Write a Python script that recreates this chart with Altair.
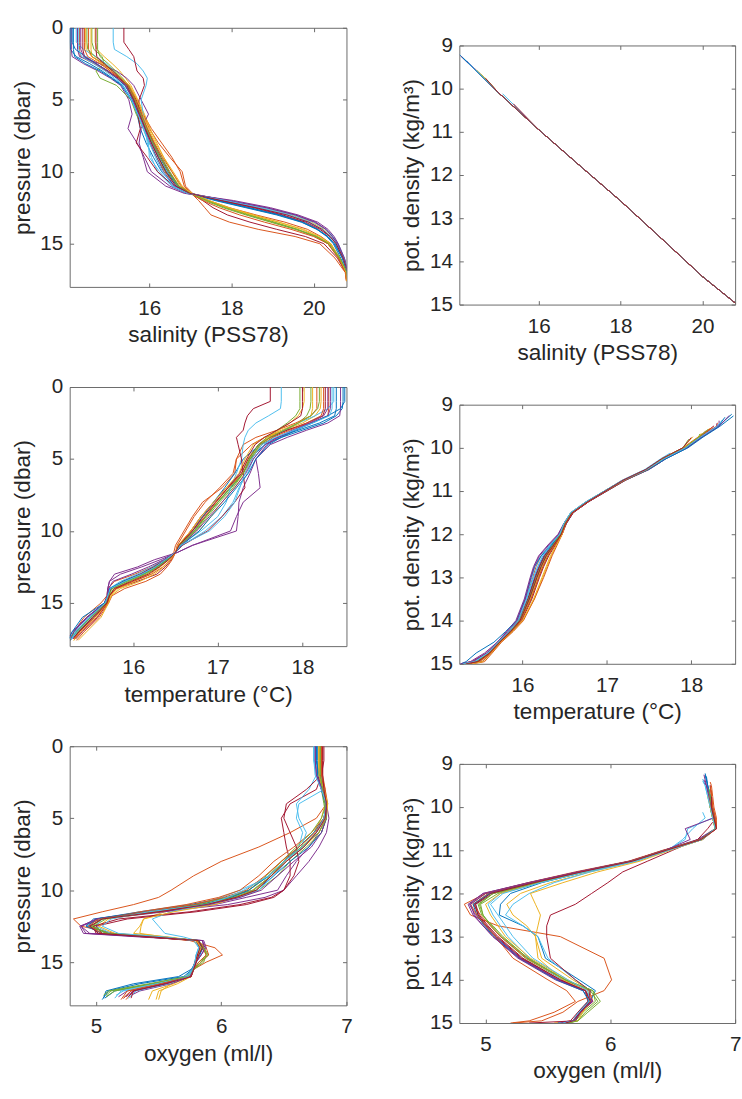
import altair as alt
import pandas as pd

# ---------------- data ----------------
COLORS = ["#0072BD", "#D95319", "#EDB120", "#7E2F8E", "#77AC30", "#4DBEEE", "#A2142F"]

PRESSURE = [0, 1, 1.5, 2, 2.5, 3, 3.5, 4, 5, 6, 7, 8, 9, 10, 11, 11.5, 12, 12.5, 13, 13.5, 14, 14.5, 15, 16, 17]

SALINITY = [
    [14.07, 14.07, 14.08, 14.22, 14.55, 14.85, 15.10, 15.35, 15.58, 15.70, 15.78, 15.92, 16.10, 16.30, 16.62, 16.95, 17.60, 18.35, 19.10, 19.70, 20.08, 20.35, 20.52, 20.70, 20.82],
    [14.30, 14.30, 14.30, 14.32, 14.65, 14.95, 15.22, 15.42, 15.65, 15.85, 16.00, 16.22, 16.50, 16.80, 16.88, 17.05, 17.45, 17.95, 18.60, 19.30, 19.85, 20.18, 20.42, 20.62, 20.78],
    [14.45, 14.45, 14.46, 14.60, 14.85, 15.05, 15.25, 15.45, 15.62, 15.78, 15.90, 16.05, 16.22, 16.40, 16.70, 17.00, 17.85, 18.75, 19.45, 19.95, 20.25, 20.42, 20.55, 20.72, 20.85],
    [14.10, 14.10, 14.10, 14.12, 14.40, 14.75, 15.05, 15.30, 15.50, 15.58, 15.48, 15.70, 15.88, 16.05, 16.50, 16.90, 17.95, 18.85, 19.55, 20.05, 20.30, 20.45, 20.58, 20.74, 20.84],
    [14.60, 14.60, 14.65, 14.85, 14.90, 14.70, 14.80, 15.20, 15.55, 15.68, 15.85, 16.00, 16.18, 16.38, 16.65, 16.98, 17.40, 17.90, 18.45, 19.05, 19.60, 20.05, 20.35, 20.62, 20.80],
    [14.22, 14.22, 14.40, 14.70, 14.95, 15.15, 15.30, 15.45, 15.60, 15.72, 15.85, 15.98, 16.00, 16.25, 16.55, 16.92, 17.90, 18.80, 19.50, 20.00, 20.30, 20.48, 20.60, 20.75, 20.85],
    [14.38, 14.38, 14.38, 14.42, 14.70, 15.00, 15.25, 15.48, 15.68, 15.82, 15.95, 16.10, 16.28, 16.48, 16.72, 17.00, 17.30, 17.55, 17.90, 18.45, 19.10, 19.80, 20.25, 20.58, 20.78],
    [14.15, 14.15, 14.15, 14.18, 14.45, 14.80, 15.08, 15.32, 15.55, 15.75, 15.92, 16.08, 16.25, 16.45, 16.70, 17.02, 17.70, 18.45, 19.20, 19.75, 20.10, 20.35, 20.50, 20.70, 20.82],
    [14.52, 14.52, 14.52, 14.60, 14.90, 15.12, 15.32, 15.50, 15.70, 15.85, 16.05, 16.30, 16.55, 16.75, 16.85, 17.02, 17.20, 17.35, 17.50, 17.95, 18.65, 19.55, 20.15, 20.52, 20.77],
    [14.68, 14.68, 14.72, 14.90, 15.10, 15.28, 15.42, 15.55, 15.72, 15.88, 16.02, 16.18, 16.35, 16.55, 16.75, 17.05, 17.45, 17.95, 18.55, 19.15, 19.70, 20.10, 20.40, 20.65, 20.80],
    [14.25, 14.25, 14.25, 14.30, 14.80, 15.20, 15.45, 15.62, 15.80, 15.98, 15.80, 15.75, 15.85, 15.95, 16.40, 16.85, 18.05, 18.95, 19.62, 20.10, 20.35, 20.50, 20.60, 20.75, 20.85],
    [14.74, 14.74, 14.74, 14.80, 15.00, 15.18, 15.35, 15.50, 15.65, 15.80, 15.95, 16.12, 16.30, 16.50, 16.72, 17.00, 17.35, 17.80, 18.35, 18.95, 19.55, 20.05, 20.35, 20.62, 20.80],
    [15.12, 15.12, 15.15, 15.45, 15.70, 15.85, 15.95, 15.92, 15.80, 15.85, 15.90, 15.95, 16.05, 16.20, 16.55, 16.92, 17.80, 18.65, 19.35, 19.85, 20.20, 20.42, 20.56, 20.73, 20.84],
    [15.38, 15.38, 15.50, 15.62, 15.66, 15.70, 15.85, 15.88, 15.75, 15.72, 15.78, 15.68, 15.95, 16.20, 16.60, 16.95, 17.75, 18.55, 19.25, 19.80, 20.15, 20.40, 20.55, 20.72, 20.83],
    [14.12, 14.12, 14.20, 14.45, 14.72, 14.98, 15.20, 15.40, 15.62, 15.78, 15.90, 16.05, 16.22, 16.42, 16.68, 17.00, 17.65, 18.40, 19.15, 19.72, 20.08, 20.32, 20.48, 20.66, 20.80],
    [14.42, 14.42, 14.42, 14.50, 14.80, 15.05, 15.28, 15.48, 15.66, 15.80, 15.95, 16.12, 16.32, 16.55, 16.78, 17.00, 17.30, 17.70, 18.20, 18.80, 19.45, 20.00, 20.35, 20.60, 20.78],
    [14.58, 14.58, 14.58, 14.60, 14.85, 15.10, 15.32, 15.52, 15.70, 15.84, 15.98, 16.15, 16.35, 16.58, 16.80, 17.02, 17.40, 17.90, 18.50, 19.15, 19.75, 20.15, 20.42, 20.64, 20.79],
    [14.33, 14.33, 14.33, 14.40, 14.70, 14.98, 15.22, 15.42, 15.60, 15.74, 15.88, 16.02, 16.18, 16.35, 16.62, 16.98, 17.90, 18.85, 19.55, 20.02, 20.30, 20.46, 20.58, 20.73, 20.84],
    [14.48, 14.48, 14.50, 14.68, 14.92, 15.12, 15.30, 15.46, 15.64, 15.78, 15.92, 16.08, 16.26, 16.46, 16.70, 17.00, 17.40, 17.85, 18.40, 19.00, 19.60, 20.08, 20.38, 20.64, 20.82],
    [14.28, 14.28, 14.28, 14.35, 14.65, 14.92, 15.15, 15.36, 15.56, 15.72, 15.86, 16.00, 16.15, 16.32, 16.58, 16.95, 17.85, 18.70, 19.40, 19.90, 20.22, 20.42, 20.56, 20.72, 20.84],
    [14.70, 14.70, 14.70, 14.72, 14.90, 15.10, 15.28, 15.45, 15.62, 15.76, 15.90, 16.05, 16.22, 16.40, 16.65, 16.98, 17.75, 18.60, 19.35, 19.88, 20.20, 20.40, 20.55, 20.72, 20.84],
]

TEMPERATURE = [
    [18.48, 18.48, 18.47, 18.40, 18.25, 18.00, 17.75, 17.55, 17.38, 17.30, 17.15, 17.00, 16.85, 16.72, 16.55, 16.50, 16.40, 16.28, 16.12, 15.90, 15.73, 15.70, 15.66, 15.48, 15.32],
    [18.31, 18.31, 18.31, 18.30, 18.10, 17.80, 17.55, 17.40, 17.22, 17.20, 17.05, 16.82, 16.70, 16.60, 16.50, 16.48, 16.38, 16.22, 16.02, 15.78, 15.70, 15.69, 15.62, 15.42, 15.30],
    [18.22, 18.22, 18.21, 18.15, 18.00, 17.78, 17.60, 17.48, 17.35, 17.28, 17.12, 16.98, 16.82, 16.68, 16.53, 16.50, 16.42, 16.30, 16.16, 15.96, 15.78, 15.72, 15.70, 15.55, 15.38],
    [18.45, 18.45, 18.45, 18.44, 18.30, 18.05, 17.82, 17.62, 17.45, 17.48, 17.50, 17.30, 17.22, 17.15, 16.70, 16.52, 16.32, 16.10, 15.85, 15.72, 15.70, 15.70, 15.68, 15.50, 15.33],
    [18.10, 18.10, 18.09, 18.05, 17.95, 17.80, 17.62, 17.50, 17.38, 17.30, 17.18, 17.02, 16.88, 16.74, 16.56, 16.50, 16.40, 16.26, 16.10, 15.90, 15.74, 15.71, 15.67, 15.50, 15.34],
    [18.37, 18.37, 18.30, 18.15, 17.95, 17.78, 17.65, 17.55, 17.42, 17.35, 17.25, 17.18, 17.05, 16.85, 16.58, 16.50, 16.38, 16.25, 16.08, 15.88, 15.73, 15.70, 15.68, 15.52, 15.36],
    [18.27, 18.27, 18.27, 18.24, 18.05, 17.82, 17.62, 17.48, 17.36, 17.28, 17.10, 16.95, 16.80, 16.68, 16.54, 16.50, 16.45, 16.38, 16.28, 16.05, 15.80, 15.72, 15.70, 15.58, 15.40],
    [18.40, 18.40, 18.40, 18.38, 18.20, 17.95, 17.70, 17.50, 17.30, 17.20, 17.08, 16.95, 16.82, 16.70, 16.55, 16.50, 16.40, 16.28, 16.12, 15.92, 15.74, 15.70, 15.67, 15.45, 15.30],
    [18.17, 18.17, 18.17, 18.10, 17.92, 17.70, 17.45, 17.30, 17.22, 17.18, 17.02, 16.85, 16.72, 16.62, 16.52, 16.50, 16.46, 16.40, 16.32, 16.15, 15.90, 15.75, 15.71, 15.60, 15.42],
    [18.02, 18.02, 18.00, 17.95, 17.85, 17.72, 17.60, 17.50, 17.40, 17.32, 17.20, 17.05, 16.92, 16.78, 16.56, 16.50, 16.42, 16.32, 16.20, 16.02, 15.82, 15.73, 15.70, 15.55, 15.36],
    [18.33, 18.33, 18.33, 18.30, 18.10, 17.90, 17.72, 17.58, 17.45, 17.38, 17.30, 17.25, 17.24, 17.22, 16.70, 16.52, 16.25, 16.05, 15.78, 15.72, 15.70, 15.69, 15.66, 15.45, 15.28],
    [17.97, 17.97, 17.97, 17.92, 17.82, 17.70, 17.58, 17.48, 17.37, 17.30, 17.16, 17.00, 16.86, 16.72, 16.55, 16.50, 16.41, 16.30, 16.15, 15.95, 15.77, 15.72, 15.69, 15.53, 15.35],
    [17.75, 17.75, 17.74, 17.60, 17.45, 17.36, 17.32, 17.30, 17.28, 17.22, 17.15, 17.10, 17.00, 16.80, 16.55, 16.50, 16.36, 16.22, 16.05, 15.85, 15.72, 15.70, 15.68, 15.50, 15.34],
    [17.62, 17.62, 17.42, 17.35, 17.32, 17.30, 17.22, 17.24, 17.28, 17.30, 17.32, 17.20, 17.05, 16.88, 16.58, 16.50, 16.38, 16.24, 16.08, 15.88, 15.74, 15.71, 15.68, 15.52, 15.36],
    [18.50, 18.50, 18.45, 18.30, 18.12, 17.92, 17.75, 17.60, 17.45, 17.36, 17.22, 17.08, 16.92, 16.78, 16.57, 16.50, 16.40, 16.27, 16.10, 15.88, 15.72, 15.70, 15.66, 15.40, 15.28],
    [18.25, 18.25, 18.25, 18.22, 18.05, 17.85, 17.65, 17.52, 17.40, 17.30, 17.12, 16.98, 16.85, 16.70, 16.54, 16.50, 16.44, 16.35, 16.22, 16.00, 15.80, 15.72, 15.70, 15.57, 15.38],
    [18.12, 18.12, 18.12, 18.10, 17.95, 17.75, 17.55, 17.42, 17.32, 17.25, 17.10, 16.95, 16.80, 16.68, 16.53, 16.50, 16.44, 16.36, 16.25, 16.08, 15.85, 15.74, 15.71, 15.62, 15.45],
    [18.30, 18.30, 18.30, 18.25, 18.08, 17.88, 17.70, 17.56, 17.42, 17.33, 17.20, 17.05, 16.90, 16.75, 16.56, 16.50, 16.36, 16.18, 15.98, 15.76, 15.71, 15.70, 15.67, 15.46, 15.30],
    [18.20, 18.20, 18.18, 18.10, 17.95, 17.78, 17.62, 17.50, 17.38, 17.30, 17.14, 17.00, 16.86, 16.73, 16.55, 16.50, 16.40, 16.28, 16.12, 15.92, 15.75, 15.71, 15.68, 15.50, 15.33],
    [18.35, 18.35, 18.35, 18.32, 18.12, 17.90, 17.68, 17.52, 17.40, 17.32, 17.26, 17.20, 17.08, 16.90, 16.56, 16.50, 16.38, 16.26, 16.10, 15.90, 15.73, 15.70, 15.67, 15.48, 15.32],
    [18.00, 18.00, 18.00, 17.98, 17.85, 17.70, 17.55, 17.44, 17.34, 17.26, 17.12, 16.97, 16.83, 16.70, 16.54, 16.50, 16.42, 16.31, 16.18, 15.98, 15.78, 15.72, 15.69, 15.54, 15.36],
]

OXY_PRESSURE = [0, 1, 2, 3, 4, 5, 6, 7, 8, 9, 10, 10.5, 11, 11.5, 12, 12.5, 13, 13.25, 13.5, 14, 14.5, 15, 15.5, 16, 16.5, 17]

OXYGEN = [
    [6.76, 6.76, 6.77, 6.82, 6.84, 6.82, 6.76, 6.66, 6.52, 6.40, 6.25, 6.05, 5.75, 5.35, 5.00, 4.93, 5.05, 5.45, 5.80, 5.84, 5.82, 5.80, 5.77, 5.72, 5.45, 5.15],
    [6.80, 6.80, 6.80, 6.83, 6.84, 6.76, 6.55, 6.30, 6.00, 5.78, 5.60, 5.50, 5.30, 5.05, 4.82, 4.88, 5.15, 5.45, 5.75, 5.95, 6.01, 5.88, 5.78, 5.76, 5.55, 5.30],
    [6.78, 6.78, 6.78, 6.80, 6.83, 6.80, 6.74, 6.62, 6.48, 6.38, 6.22, 6.08, 5.85, 5.55, 5.38, 5.36, 5.35, 5.55, 5.78, 5.83, 5.80, 5.79, 5.77, 5.75, 5.60, 5.52],
    [6.75, 6.75, 6.76, 6.80, 6.84, 6.83, 6.78, 6.70, 6.60, 6.52, 6.45, 6.20, 5.95, 5.55, 5.05, 4.88, 4.92, 5.40, 5.85, 5.86, 5.82, 5.80, 5.78, 5.76, 5.50, 5.25],
    [6.79, 6.79, 6.79, 6.80, 6.82, 6.84, 6.80, 6.68, 6.55, 6.45, 6.30, 6.12, 5.88, 5.50, 5.08, 4.98, 5.08, 5.50, 5.80, 5.86, 5.90, 5.82, 5.78, 5.74, 5.45, 5.12],
    [6.74, 6.74, 6.80, 6.82, 6.62, 6.60, 6.65, 6.62, 6.50, 6.40, 6.15, 6.00, 5.80, 5.40, 5.05, 5.00, 5.12, 5.50, 5.80, 5.82, 5.80, 5.79, 5.77, 5.74, 5.55, 5.22],
    [6.80, 6.80, 6.80, 6.76, 6.55, 6.48, 6.50, 6.52, 6.55, 6.55, 6.50, 6.42, 6.20, 5.80, 5.25, 5.00, 5.05, 5.45, 5.82, 5.84, 5.81, 5.79, 5.77, 5.76, 5.55, 5.28],
    [6.77, 6.77, 6.77, 6.80, 6.83, 6.84, 6.80, 6.70, 6.55, 6.42, 6.28, 6.10, 5.82, 5.42, 5.00, 4.95, 5.10, 5.50, 5.82, 5.85, 5.83, 5.80, 5.77, 5.70, 5.35, 5.10],
    [6.81, 6.81, 6.81, 6.83, 6.85, 6.82, 6.72, 6.58, 6.42, 6.30, 6.15, 5.98, 5.72, 5.35, 5.05, 4.96, 5.02, 5.40, 5.80, 5.88, 5.90, 5.84, 5.78, 5.75, 5.50, 5.25],
    [6.78, 6.78, 6.78, 6.81, 6.84, 6.83, 6.76, 6.64, 6.50, 6.40, 6.28, 6.12, 5.90, 5.45, 5.10, 5.02, 5.15, 5.55, 5.80, 5.84, 5.82, 5.80, 5.77, 5.75, 5.62, 5.45],
    [6.75, 6.75, 6.76, 6.80, 6.84, 6.86, 6.84, 6.78, 6.70, 6.60, 6.50, 6.35, 6.05, 5.50, 5.02, 4.87, 4.90, 5.35, 5.86, 5.88, 5.84, 5.80, 5.78, 5.76, 5.60, 5.35],
    [6.79, 6.79, 6.79, 6.82, 6.84, 6.80, 6.72, 6.60, 6.48, 6.36, 6.22, 6.05, 5.80, 5.45, 5.05, 4.97, 5.10, 5.52, 5.82, 5.85, 5.88, 5.86, 5.78, 5.74, 5.48, 5.15],
    [6.74, 6.74, 6.76, 6.70, 6.60, 6.62, 6.68, 6.64, 6.52, 6.42, 6.30, 6.15, 5.90, 5.60, 5.45, 5.50, 5.55, 5.70, 5.80, 5.82, 5.80, 5.79, 5.77, 5.72, 5.48, 5.20],
    [6.82, 6.82, 6.80, 6.68, 6.52, 6.50, 6.55, 6.60, 6.62, 6.58, 6.50, 6.40, 6.15, 5.75, 5.18, 4.98, 5.00, 5.40, 5.80, 5.83, 5.81, 5.79, 5.77, 5.76, 5.55, 5.30],
    [6.76, 6.76, 6.78, 6.82, 6.84, 6.82, 6.74, 6.62, 6.50, 6.38, 6.22, 6.08, 5.85, 5.40, 4.98, 4.92, 5.05, 5.48, 5.82, 5.84, 5.82, 5.80, 5.76, 5.66, 5.30, 5.08],
    [6.80, 6.80, 6.80, 6.82, 6.84, 6.82, 6.75, 6.62, 6.48, 6.35, 6.20, 6.02, 5.78, 5.40, 5.02, 4.94, 5.05, 5.45, 5.80, 5.86, 5.88, 5.82, 5.78, 5.75, 5.52, 5.28],
    [6.78, 6.78, 6.78, 6.82, 6.85, 6.84, 6.78, 6.66, 6.52, 6.40, 6.25, 6.12, 5.95, 5.62, 5.38, 5.35, 5.30, 5.58, 5.80, 5.84, 5.82, 5.80, 5.78, 5.76, 5.65, 5.50],
    [6.75, 6.75, 6.76, 6.81, 6.84, 6.84, 6.80, 6.72, 6.58, 6.45, 6.32, 6.15, 5.90, 5.45, 5.00, 4.88, 4.95, 5.45, 5.85, 5.87, 5.84, 5.80, 5.78, 5.75, 5.55, 5.30],
    [6.79, 6.79, 6.79, 6.81, 6.83, 6.84, 6.78, 6.64, 6.50, 6.40, 6.26, 6.10, 5.85, 5.45, 5.04, 4.96, 5.08, 5.50, 5.82, 5.86, 5.89, 5.84, 5.78, 5.73, 5.42, 5.10],
    [6.74, 6.74, 6.75, 6.80, 6.84, 6.82, 6.76, 6.65, 6.50, 6.38, 6.18, 6.05, 5.88, 5.42, 5.12, 5.05, 5.18, 5.55, 5.78, 5.82, 5.80, 5.79, 5.77, 5.74, 5.58, 5.32],
    [6.81, 6.81, 6.81, 6.82, 6.84, 6.83, 6.76, 6.66, 6.52, 6.40, 6.28, 6.12, 5.88, 5.50, 5.05, 4.95, 5.02, 5.45, 5.82, 5.85, 5.82, 5.80, 5.78, 5.76, 5.56, 5.30],
]

# deepest sample of each cast
BOTTOM_P = [17.5, 17.6, 17.6, 17.4, 17.3, 17.3, 17.5, 17.6, 17.6, 17.6, 17.3, 17.4, 17.5, 17.4, 17.5, 17.5, 17.6, 17.4, 17.3, 17.5, 17.5]
BOTTOM_S = [20.84, 20.80, 20.86, 20.85, 20.83, 20.86, 20.80, 20.84, 20.80, 20.81, 20.85, 20.82, 20.85, 20.84, 20.82, 20.80, 20.80, 20.85, 20.83, 20.85, 20.85]
BOTTOM_T = [15.27, 15.26, 15.30, 15.28, 15.28, 15.30, 15.32, 15.26, 15.33, 15.30, 15.25, 15.29, 15.28, 15.30, 15.24, 15.30, 15.35, 15.26, 15.27, 15.27, 15.29]
BOTTOM_O = [5.07, 5.24, 5.50, 5.18, 5.08, 5.16, 5.22, 5.05, 5.20, 5.42, 5.28, 5.08, 5.15, 5.26, 5.06, 5.22, 5.48, 5.24, 5.06, 5.26, 5.28]

# potential density (kg/m^3 - 1000) space
SURFACE_SIGMA = [9.22, 9.42, 9.55, 9.25, 9.68, 9.35, 9.49, 9.29, 9.61, 9.74, 9.37, 9.80, 10.12, 10.35, 9.26, 9.52, 9.66, 9.44, 9.57, 9.40, 9.76]
SIGMA_LEVELS = [9.5, 9.75, 10, 10.25, 10.5, 10.75, 11, 11.25, 11.5, 11.75, 12, 12.25, 12.5, 12.75, 13, 13.5, 14, 14.25, 14.5, 14.75, 14.95, 15.0]

SAL_LINE_S = [15.0, 16.0, 17.0, 18.0, 19.0, 20.0, 20.85]
SAL_LINE_SIGMA = [10.08, 10.95, 11.78, 12.60, 13.47, 14.35, 15.0]

TEMP_ON_SIGMA = [
    [18.32, 18.12, 17.95, 17.70, 17.50, 17.22, 17.00, 16.78, 16.60, 16.52, 16.46, 16.37, 16.28, 16.22, 16.17, 16.08, 15.97, 15.86, 15.73, 15.62, 15.48, 15.32],
    [18.30, 18.08, 17.90, 17.66, 17.46, 17.18, 16.97, 16.75, 16.57, 16.49, 16.44, 16.33, 16.22, 16.16, 16.12, 16.04, 15.94, 15.84, 15.72, 15.58, 15.40, 15.28],
    [18.28, 18.10, 17.93, 17.68, 17.49, 17.21, 16.99, 16.77, 16.58, 16.50, 16.46, 16.40, 16.34, 16.29, 16.24, 16.14, 16.00, 15.88, 15.74, 15.62, 15.50, 15.35],
    [18.33, 18.13, 17.94, 17.69, 17.47, 17.19, 16.98, 16.76, 16.58, 16.50, 16.44, 16.34, 16.25, 16.19, 16.14, 16.06, 15.95, 15.84, 15.71, 15.58, 15.42, 15.28],
    [18.28, 18.09, 17.91, 17.66, 17.48, 17.21, 16.99, 16.77, 16.59, 16.51, 16.46, 16.38, 16.30, 16.24, 16.19, 16.10, 15.98, 15.87, 15.73, 15.61, 15.46, 15.31],
    [18.31, 18.11, 17.93, 17.68, 17.47, 17.19, 16.97, 16.75, 16.57, 16.49, 16.43, 16.32, 16.22, 16.15, 16.11, 16.04, 15.94, 15.83, 15.71, 15.59, 15.44, 15.30],
    [18.29, 18.10, 17.92, 17.67, 17.49, 17.22, 17.00, 16.78, 16.60, 16.52, 16.47, 16.39, 16.31, 16.25, 16.20, 16.11, 15.99, 15.88, 15.74, 15.63, 15.52, 15.38],
    [18.32, 18.12, 17.94, 17.69, 17.48, 17.20, 16.98, 16.76, 16.58, 16.50, 16.45, 16.35, 16.26, 16.20, 16.15, 16.07, 15.96, 15.85, 15.72, 15.60, 15.45, 15.30],
    [18.27, 18.09, 17.91, 17.66, 17.47, 17.20, 16.98, 16.77, 16.59, 16.51, 16.47, 16.41, 16.35, 16.30, 16.25, 16.14, 16.01, 15.89, 15.75, 15.64, 15.55, 15.42],
    [18.27, 18.08, 17.90, 17.65, 17.46, 17.19, 16.97, 16.76, 16.58, 16.50, 16.45, 16.37, 16.29, 16.23, 16.18, 16.09, 15.97, 15.86, 15.73, 15.61, 15.47, 15.33],
    [18.33, 18.13, 17.95, 17.70, 17.50, 17.21, 16.99, 16.77, 16.58, 16.49, 16.42, 16.30, 16.19, 16.13, 16.09, 16.02, 15.92, 15.81, 15.70, 15.55, 15.38, 15.26],
    [18.26, 18.07, 17.90, 17.65, 17.46, 17.19, 16.97, 16.76, 16.58, 16.50, 16.45, 16.36, 16.27, 16.21, 16.16, 16.07, 15.96, 15.85, 15.72, 15.60, 15.45, 15.31],
    [18.25, 18.06, 17.88, 17.64, 17.45, 17.18, 16.97, 16.76, 16.58, 16.50, 16.44, 16.34, 16.24, 16.18, 16.13, 16.05, 15.95, 15.84, 15.72, 15.59, 15.44, 15.30],
    [18.25, 18.06, 17.88, 17.64, 17.47, 17.20, 16.99, 16.78, 16.60, 16.51, 16.45, 16.36, 16.26, 16.20, 16.15, 16.06, 15.95, 15.84, 15.72, 15.60, 15.46, 15.32],
    [18.34, 18.14, 17.96, 17.70, 17.49, 17.20, 16.98, 16.76, 16.58, 16.50, 16.45, 16.34, 16.22, 16.14, 16.10, 16.03, 15.93, 15.80, 15.66, 15.45, 15.33, 15.27],
    [18.29, 18.10, 17.92, 17.67, 17.48, 17.21, 16.99, 16.77, 16.59, 16.51, 16.46, 16.38, 16.30, 16.24, 16.19, 16.10, 15.98, 15.87, 15.73, 15.62, 15.49, 15.36],
    [18.27, 18.09, 17.91, 17.66, 17.47, 17.20, 16.98, 16.77, 16.59, 16.51, 16.47, 16.40, 16.33, 16.28, 16.23, 16.13, 16.00, 15.88, 15.74, 15.63, 15.53, 15.40],
    [18.31, 18.11, 17.93, 17.68, 17.48, 17.20, 16.98, 16.76, 16.58, 16.49, 16.43, 16.31, 16.20, 16.14, 16.10, 16.03, 15.93, 15.82, 15.70, 15.57, 15.40, 15.27],
    [18.28, 18.09, 17.92, 17.67, 17.48, 17.20, 16.98, 16.76, 16.58, 16.50, 16.45, 16.36, 16.28, 16.22, 16.17, 16.08, 15.97, 15.86, 15.72, 15.60, 15.46, 15.31],
    [18.31, 18.11, 17.93, 17.68, 17.47, 17.19, 16.97, 16.75, 16.57, 16.49, 16.44, 16.33, 16.24, 16.18, 16.13, 16.05, 15.95, 15.84, 15.71, 15.59, 15.43, 15.29],
    [18.26, 18.07, 17.90, 17.65, 17.46, 17.19, 16.98, 16.77, 16.59, 16.51, 16.46, 16.37, 16.28, 16.22, 16.17, 16.08, 15.97, 15.86, 15.73, 15.61, 15.47, 15.33],
]

OXY_ON_SIGMA = [
    [6.78, 6.80, 6.81, 6.83, 6.84, 6.73, 6.45, 6.18, 5.76, 5.38, 5.04, 4.92, 4.94, 5.00, 5.08, 5.28, 5.58, 5.80, 5.84, 5.75, 5.70, 5.62],
    [6.81, 6.82, 6.83, 6.85, 6.85, 6.72, 6.42, 6.15, 5.72, 5.34, 5.00, 4.83, 4.88, 5.10, 5.60, 5.95, 6.01, 5.95, 5.74, 5.62, 5.45, 5.22],
    [6.78, 6.79, 6.80, 6.82, 6.84, 6.74, 6.47, 6.21, 5.84, 5.52, 5.28, 5.17, 5.22, 5.33, 5.40, 5.45, 5.70, 5.84, 5.83, 5.76, 5.72, 5.55],
    [6.77, 6.79, 6.81, 6.83, 6.84, 6.70, 6.43, 6.16, 5.74, 5.34, 4.98, 4.86, 4.90, 4.98, 5.06, 5.26, 5.56, 5.78, 5.85, 5.76, 5.70, 5.60],
    [6.79, 6.79, 6.80, 6.82, 6.84, 6.73, 6.45, 6.19, 5.79, 5.42, 5.10, 4.96, 4.98, 5.04, 5.12, 5.32, 5.62, 5.84, 5.90, 5.80, 5.74, 5.66],
    [6.76, 6.78, 6.80, 6.82, 6.62, 6.60, 6.46, 6.20, 5.80, 5.44, 5.12, 5.02, 5.06, 5.12, 5.18, 5.35, 5.62, 5.80, 5.82, 5.74, 5.70, 5.64],
    [6.80, 6.81, 6.82, 6.84, 6.85, 6.72, 6.44, 6.17, 5.77, 5.40, 5.06, 4.92, 4.95, 5.02, 5.10, 5.30, 5.60, 5.80, 5.82, 5.74, 5.68, 5.58],
    [6.78, 6.80, 6.81, 6.83, 6.84, 6.73, 6.46, 6.20, 5.80, 5.45, 5.20, 5.12, 5.11, 5.30, 5.42, 5.48, 5.75, 5.88, 5.84, 5.76, 5.72, 5.66],
    [6.81, 6.81, 6.82, 6.84, 6.85, 6.74, 6.46, 6.18, 5.77, 5.38, 5.02, 4.90, 4.96, 5.04, 5.12, 5.33, 5.64, 5.83, 5.86, 5.77, 5.72, 5.66],
    [6.78, 6.78, 6.80, 6.82, 6.84, 6.74, 6.47, 6.20, 5.80, 5.43, 5.12, 5.00, 5.04, 5.10, 5.16, 5.36, 5.66, 5.82, 5.84, 5.76, 5.72, 5.62],
    [6.77, 6.79, 6.81, 6.83, 6.85, 6.71, 6.43, 6.16, 5.74, 5.35, 4.98, 4.87, 4.92, 5.00, 5.08, 5.28, 5.58, 5.80, 5.86, 5.76, 5.70, 5.58],
    [6.79, 6.79, 6.80, 6.82, 6.84, 6.73, 6.45, 6.19, 5.79, 5.41, 5.06, 4.94, 4.97, 5.06, 5.14, 5.34, 5.64, 5.86, 5.88, 5.78, 5.72, 5.64],
    [6.74, 6.74, 6.74, 6.76, 6.66, 6.58, 6.46, 6.22, 5.84, 5.55, 5.35, 5.22, 5.16, 5.30, 5.42, 5.50, 5.72, 5.84, 5.82, 5.76, 5.72, 5.58],
    [6.82, 6.82, 6.82, 6.82, 6.78, 6.70, 6.50, 6.30, 6.10, 5.98, 5.85, 5.72, 5.52, 5.49, 5.49, 5.52, 5.72, 5.84, 5.82, 5.76, 5.72, 5.35],
    [6.78, 6.80, 6.81, 6.83, 6.84, 6.72, 6.44, 6.17, 5.76, 5.38, 5.03, 4.90, 4.93, 4.99, 5.07, 5.27, 5.57, 5.78, 5.83, 5.76, 5.70, 5.64],
    [6.80, 6.81, 6.82, 6.84, 6.85, 6.72, 6.43, 6.16, 5.75, 5.36, 5.00, 4.88, 4.93, 5.00, 5.08, 5.22, 5.50, 5.65, 5.72, 5.55, 5.35, 5.20],
    [6.78, 6.79, 6.80, 6.82, 6.84, 6.74, 6.48, 6.24, 5.90, 5.62, 5.36, 5.40, 5.44, 5.42, 5.40, 5.42, 5.62, 5.80, 5.84, 5.78, 5.74, 5.62],
    [6.77, 6.79, 6.81, 6.83, 6.60, 6.64, 6.44, 6.17, 5.75, 5.36, 5.00, 4.88, 4.91, 4.98, 5.06, 5.27, 5.58, 5.80, 5.85, 5.76, 5.71, 5.60],
    [6.79, 6.80, 6.81, 6.83, 6.84, 6.73, 6.45, 6.18, 5.78, 5.40, 5.06, 4.95, 4.98, 5.05, 5.13, 5.34, 5.64, 5.86, 5.92, 5.82, 5.74, 5.66],
    [6.76, 6.78, 6.80, 6.82, 6.84, 6.74, 6.47, 6.20, 5.80, 5.44, 5.14, 5.04, 5.10, 5.16, 5.22, 5.38, 5.66, 5.82, 5.83, 5.75, 5.70, 5.62],
    [6.81, 6.81, 6.81, 6.83, 6.85, 6.73, 6.45, 6.18, 5.77, 5.39, 5.04, 4.91, 4.94, 5.01, 5.09, 5.29, 5.60, 5.80, 5.84, 5.76, 5.70, 5.64],
]

SAL_TICKS = [16, 18, 20]
TEMP_TICKS = [16, 17, 18]
OXY_TICKS = [5, 6, 7]
PRES_TICKS = [0, 5, 10, 15]
SIGMA_TICKS = [9, 10, 11, 12, 13, 14, 15]

# ---------------- tables ----------------
N = len(SALINITY)
NAMES = [f"cast {i + 1:02d}" for i in range(N)]


def table(xs_list, ys_list):
    rows = []
    for c, (xs, ys) in enumerate(zip(xs_list, ys_list)):
        for i, (x, y) in enumerate(zip(xs, ys)):
            rows.append({"cast": NAMES[c], "i": i, "x": x, "y": y})
    return pd.DataFrame(rows)


df_sp = table([SALINITY[c] + [BOTTOM_S[c]] for c in range(N)], [PRESSURE + [BOTTOM_P[c]] for c in range(N)])
df_tp = table([TEMPERATURE[c] + [BOTTOM_T[c]] for c in range(N)], [PRESSURE + [BOTTOM_P[c]] for c in range(N)])
df_op = table([OXYGEN[c] + [BOTTOM_O[c]] for c in range(N)], [OXY_PRESSURE + [BOTTOM_P[c]] for c in range(N)])


def sigma_profile(c, first_value, values, levels):
    s0 = SURFACE_SIGMA[c]
    xs, ys = [first_value], [s0]
    for lev, v in zip(levels, values):
        if lev > s0 + 0.05:
            xs.append(v)
            ys.append(lev)
    return xs, ys


ss = []
for c in range(N):
    xs, ys = [SALINITY[c][0]], [SURFACE_SIGMA[c]]
    for s, d in zip(SAL_LINE_S, SAL_LINE_SIGMA):
        if s > SALINITY[c][0] + 0.05:
            xs.append(s)
            ys.append(d)
    ss.append((xs, ys))
ts = [sigma_profile(c, TEMPERATURE[c][0], TEMP_ON_SIGMA[c], SIGMA_LEVELS) for c in range(N)]
os_ = [sigma_profile(c, OXYGEN[c][0], OXY_ON_SIGMA[c], SIGMA_LEVELS) for c in range(N)]

df_ss = table([a for a, b in ss], [b for a, b in ss])
df_ts = table([a for a, b in ts], [b for a, b in ts])
df_os = table([a for a, b in os_], [b for a, b in os_])

# ---------------- styling ----------------
FONT = "Liberation Sans"
TXT = "#262626"
FRAME = "#6a6a6a"
TICK = 4
LABEL_SIZE = 21
TITLE_SIZE = 23


def make_axis(orient, values, title, labels):
    kw = dict(
        orient=orient, values=values, offset=-TICK, tickSize=TICK, tickColor=FRAME,
        tickWidth=1, domain=False, grid=False, labels=labels, labelFlush=False,
        labelOverlap=False, labelFont=FONT, labelFontSize=LABEL_SIZE, labelColor=TXT,
        title=title, titleFont=FONT, titleFontSize=TITLE_SIZE, titleFontWeight="normal",
        titleColor=TXT,
    )
    if orient == "bottom":
        kw.update(labelPadding=11, titlePadding=6)
    elif orient == "left":
        kw.update(labelPadding=7, titlePadding=6)
    return alt.Axis(**kw)


color = alt.Color("cast:N", scale=alt.Scale(domain=NAMES, range=[COLORS[i % 7] for i in range(N)]), legend=None)


def panel(df, xdom, ydom, xticks, yticks, xtitle, ytitle, width, height):
    xs = alt.Scale(domain=xdom, nice=False, zero=False)
    ys = alt.Scale(domain=ydom, nice=False, zero=False, reverse=True)
    lines = alt.Chart(df).mark_line(strokeWidth=1, clip=True).encode(
        x=alt.X("x:Q", scale=xs, axis=make_axis("bottom", xticks, xtitle, True)),
        y=alt.Y("y:Q", scale=ys, axis=make_axis("left", yticks, ytitle, True)),
        color=color,
        order=alt.Order("i:Q"),
        detail="cast:N",
    )
    mirror = alt.Chart(df).mark_line(opacity=0, clip=True).encode(
        x=alt.X("x:Q", scale=xs, axis=make_axis("top", xticks, "", False)),
        y=alt.Y("y:Q", scale=ys, axis=make_axis("right", yticks, "", False)),
        order=alt.Order("i:Q"),
        detail="cast:N",
    )
    return alt.layer(lines, mirror).resolve_axis(x="independent", y="independent").properties(width=width, height=height)


W_L, W_R, H = 282, 281, 264
SAL_DOM = [14.06, 20.8]
TEMP_DOM = [15.25, 18.52]
OXY_DOM = [4.79, 7.0]
PRES_DOM = [0, 18]
SIG_DOM = [9, 15]
PRES_T = "pressure (dbar)"
SIG_T = "pot. density (kg/m³)"

p1 = panel(df_sp, SAL_DOM, PRES_DOM, SAL_TICKS, PRES_TICKS, "salinity (PSS78)", PRES_T, W_L, H)
p3 = panel(df_tp, TEMP_DOM, PRES_DOM, TEMP_TICKS, PRES_TICKS, "temperature (°C)", PRES_T, W_L, H)
p5 = panel(df_op, OXY_DOM, PRES_DOM, OXY_TICKS, PRES_TICKS, "oxygen (ml/l)", PRES_T, W_L, H)
p2 = panel(df_ss, SAL_DOM, SIG_DOM, SAL_TICKS, SIGMA_TICKS, "salinity (PSS78)", SIG_T, W_R, H)
p4 = panel(df_ts, TEMP_DOM, SIG_DOM, TEMP_TICKS, SIGMA_TICKS, "temperature (°C)", SIG_T, W_R, H)
p6 = panel(df_os, OXY_DOM, SIG_DOM, OXY_TICKS, SIGMA_TICKS, "oxygen (ml/l)", SIG_T, W_R, H)

# invisible block that lowers the right-hand column
spacer = alt.Chart(pd.DataFrame({"v": [0]})).mark_rect(opacity=0).encode(
    x=alt.value(0), x2=alt.value(20), y=alt.value(0), y2=alt.value(6)
).properties(width=20, height=6, view=alt.ViewBackground(strokeOpacity=0))

left = alt.vconcat(p1, p3, p5, spacing=102, bounds="flush")
right_inner = alt.vconcat(p2, p4, p6, spacing=102, bounds="flush")
right = alt.vconcat(spacer, right_inner, spacing=0)

chart = alt.hconcat(left, right, spacing=48).properties(
    padding={"left": 11, "top": 6, "right": 0, "bottom": 0},
    background="white",
).configure_view(stroke=FRAME, strokeWidth=1)

chart.save("out.html", embed_options={"renderer": "svg", "actions": False})
